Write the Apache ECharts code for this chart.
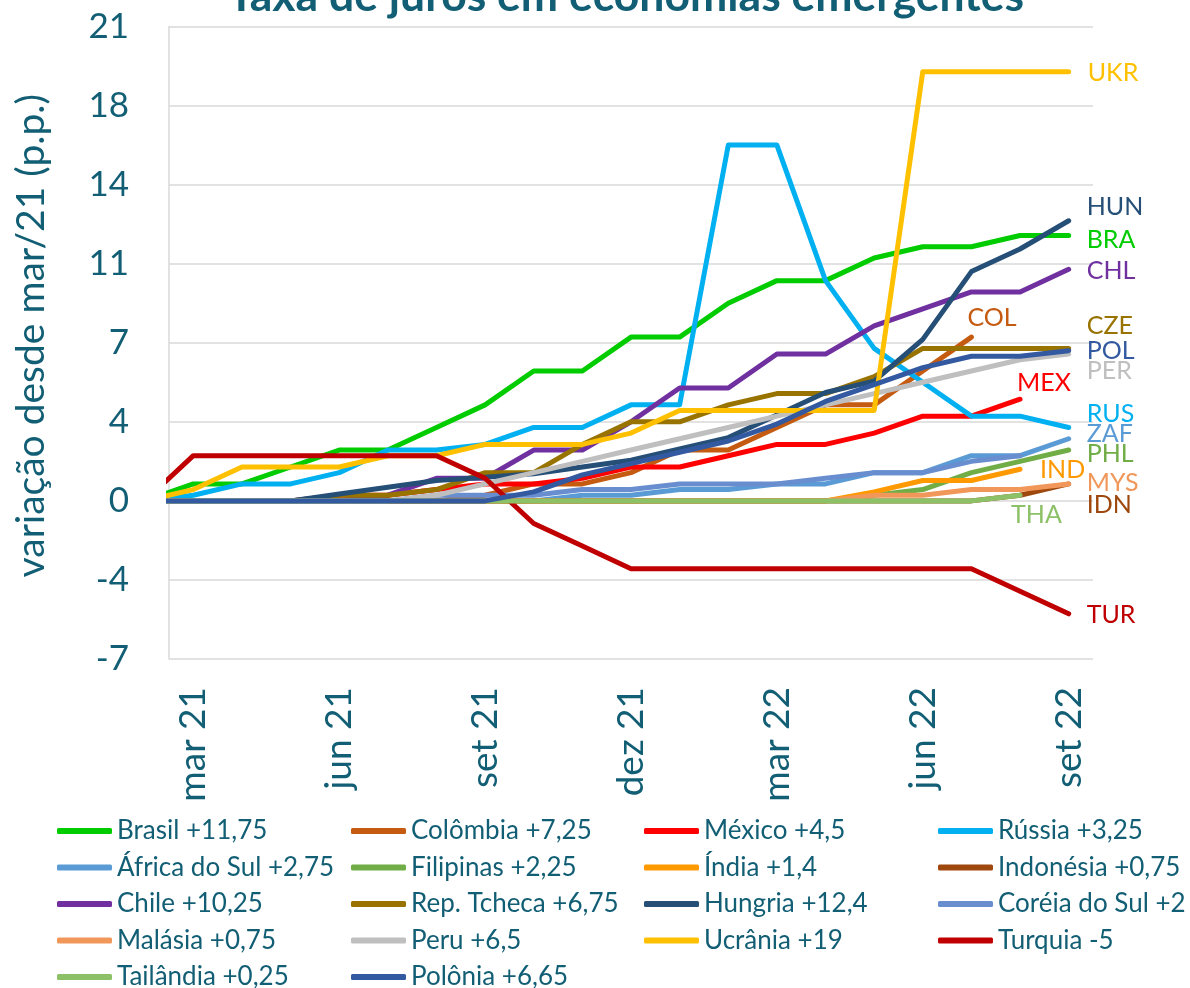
<!DOCTYPE html>
<html>
<head>
<meta charset="utf-8">
<script src="https://cdn.jsdelivr.net/npm/echarts@6/dist/echarts.min.js"></script>
<style>
  html, body { margin: 0; padding: 0; background: #fff; }
  #chart { width: 1190px; height: 988px; }
</style>
</head>
<body>
<div id="chart"></div>
<script>
// meses (o primeiro, fev 21, é a base antes de mar/21)
const months = ['fev 21', 'mar 21', 'abr 21', 'mai 21', 'jun 21', 'jul 21', 'ago 21', 'set 21', 'out 21', 'nov 21',
  'dez 21', 'jan 22', 'fev 22', 'mar 22', 'abr 22', 'mai 22', 'jun 22', 'jul 22', 'ago 22', 'set 22'];

const names = ['Brasil +11,75', 'Colômbia +7,25', 'México +4,5', 'Rússia +3,25',
  'África do Sul +2,75', 'Filipinas +2,25', 'Índia +1,4', 'Indonésia +0,75',
  'Chile +10,25', 'Rep. Tcheca +6,75', 'Hungria +12,4', 'Coréia do Sul +2',
  'Malásia +0,75', 'Peru +6,5', 'Ucrânia +19', 'Turquia -5',
  'Tailândia +0,25', 'Polônia +6,65'];
const codes = ['BRA', 'COL', 'MEX', 'RUS', 'ZAF', 'PHL', 'IND', 'IDN', 'CHL', 'CZE', 'HUN', '',
  'MYS', 'PER', 'UKR', 'TUR', 'THA', 'POL'];
const colors = ['#00CC00', '#C55A11', '#FF0000', '#00B0F0', '#5B9BD5', '#70AD47', '#FF9900', '#9E480E',
  '#7030A0', '#997300', '#264F78', '#698ED0', '#F1975A', '#BFBFBF', '#FFC000', '#C00000', '#8CC168', '#335AA1'];

// variação em p.p. desde mar/21
const brasil    = [0, 0.75, 0.75, 1.5, 2.25, 2.25, 3.25, 4.25, 5.75, 5.75, 7.25, 7.25, 8.75, 9.75, 9.75, 10.75, 11.25, 11.25, 11.75, 11.75];
const colombia  = [0, 0, 0, 0, 0, 0, 0, 0.25, 0.75, 0.75, 1.25, 2.25, 2.25, 3.25, 4.25, 4.25, 5.75, 7.25, null, null];
const mexico    = [0, 0, 0, 0, 0.25, 0.25, 0.5, 0.75, 0.75, 1, 1.5, 1.5, 2, 2.5, 2.5, 3, 3.75, 3.75, 4.5, null];
const russia    = [0, 0.25, 0.75, 0.75, 1.25, 2.25, 2.25, 2.5, 3.25, 3.25, 4.25, 4.25, 15.75, 15.75, 9.75, 6.75, 5.25, 3.75, 3.75, 3.25];
const africaSul = [0, 0, 0, 0, 0, 0, 0, 0, 0, 0.25, 0.25, 0.5, 0.5, 0.75, 0.75, 1.25, 1.25, 2, 2, 2.75];
const filipinas = [0, 0, 0, 0, 0, 0, 0, 0, 0, 0, 0, 0, 0, 0, 0, 0.25, 0.5, 1.25, 1.75, 2.25];
const india     = [0, 0, 0, 0, 0, 0, 0, 0, 0, 0, 0, 0, 0, 0, 0, 0.4, 0.9, 0.9, 1.4, null];
const indonesia = [0, 0, 0, 0, 0, 0, 0, 0, 0, 0, 0, 0, 0, 0, 0, 0, 0, 0, 0.25, 0.75];
const chile     = [0, 0, 0, 0, 0, 0.25, 1, 1, 2.25, 2.25, 3.5, 5, 5, 6.5, 6.5, 7.75, 8.5, 9.25, 9.25, 10.25];
const tcheca    = [0, 0, 0, 0, 0.25, 0.25, 0.5, 1.25, 1.25, 2.5, 3.5, 3.5, 4.25, 4.75, 4.75, 5.5, 6.75, 6.75, 6.75, 6.75];
const hungria   = [0, 0, 0, 0, 0.3, 0.6, 0.9, 1.05, 1.2, 1.5, 1.8, 2.3, 2.8, 3.8, 4.8, 5.3, 7.15, 10.15, 11.15, 12.4];
const coreia    = [0, 0, 0, 0, 0, 0, 0.25, 0.25, 0.25, 0.5, 0.5, 0.75, 0.75, 0.75, 1, 1.25, 1.25, 1.75, 2, null];
const malasia   = [0, 0, 0, 0, 0, 0, 0, 0, 0, 0, 0, 0, 0, 0, 0, 0.25, 0.25, 0.5, 0.5, 0.75];
const peru      = [0, 0, 0, 0, 0, 0, 0.25, 0.75, 1.25, 1.75, 2.25, 2.75, 3.25, 3.75, 4.25, 4.75, 5.25, 5.75, 6.25, 6.5];
const ucrania   = [0, 0.5, 1.5, 1.5, 1.5, 2, 2, 2.5, 2.5, 2.5, 3, 4, 4, 4, 4, 4, 19, 19, 19, 19];
const turquia   = [0, 2, 2, 2, 2, 2, 2, 1, -1, -2, -3, -3, -3, -3, -3, -3, -3, -3, -4, -5];
const tailandia = [0, 0, 0, 0, 0, 0, 0, 0, 0, 0, 0, 0, 0, 0, 0, 0, 0, 0, 0.25, null];
const polonia   = [0, 0, 0, 0, 0, 0, 0, 0, 0.4, 1.15, 1.65, 2.15, 2.65, 3.4, 4.4, 5.15, 5.9, 6.4, 6.4, 6.65];

const values = [brasil, colombia, mexico, russia, africaSul, filipinas, india, indonesia,
  chile, tcheca, hungria, coreia, malasia, peru, ucrania, turquia, tailandia, polonia];

const xTicks = [0, 3, 6, 9, 12, 15, 18];

// deslocamento dos rótulos à direita [dx, dy]
const labelOffsets = {
  UKR: [19, 1], HUN: [18, -14], BRA: [18, 4], CHL: [18, 2], COL: [-4, -19], CZE: [18, -22],
  POL: [18, 0], PER: [18, 17], MEX: [-3, -16], RUS: [18, -14], ZAF: [18, -5], PHL: [18, 4],
  IND: [20, 1], MYS: [18, -1], IDN: [18, 21], THA: [-9, 20], TUR: [18, 1]
};

const teal = '#125E74';
const font = 'Lato';

const series = names.map((name, s) => {
  const data = [];
  values[s].forEach((v, i) => { if (v !== null) data.push([i - 1, v]); });
  const code = codes[s];
  return {
    name: name,
    type: 'line',
    data: data,
    symbol: 'none',
    lineStyle: { color: colors[s], width: 5, cap: 'round', join: 'round' },
    itemStyle: { color: colors[s] },
    endLabel: {
      show: code !== '',
      formatter: code,
      color: colors[s],
      fontSize: 25,
      fontFamily: font,
      distance: 0,
      offset: labelOffsets[code] || [0, 0]
    },
    emphasis: { disabled: true }
  };
});

const legendLefts = [57, 351, 644, 938];
const legends = legendLefts.map((left, c) => ({
  orient: 'vertical',
  left: left,
  top: 817,
  height: 260,
  padding: 0,
  itemGap: 8.5,
  itemWidth: 55,
  itemHeight: 6,
  icon: 'roundRect',
  data: names.filter((n, i) => i % 4 === c),
  textStyle: { color: teal, fontSize: 26, lineHeight: 28, fontFamily: font }
}));

const chart = echarts.init(document.getElementById('chart'));
chart.setOption({
  animation: false,
  textStyle: { fontFamily: font },
  title: {
    text: 'Taxa de juros em economias emergentes',
    left: 621,
    textAlign: 'center',
    top: -31,
    textStyle: { color: teal, fontSize: 44.5, fontWeight: 'bold', fontFamily: font }
  },
  legend: legends,
  grid: { left: 169, right: 97, top: 26.5, bottom: 329 },
  xAxis: {
    type: 'value',
    min: -0.5,
    max: 18.5,
    axisLine: { show: false },
    axisTick: { show: false },
    splitLine: { show: false },
    axisLabel: {
      customValues: xTicks,
      rotate: 90,
      margin: 28,
      fontSize: 37,
      color: teal,
      fontFamily: font,
      formatter: v => months[Math.round(v) + 1]
    }
  },
  yAxis: {
    type: 'value',
    min: -7,
    max: 21,
    interval: 3.5,
    name: 'variação desde mar/21 (p.p.)',
    nameLocation: 'middle',
    nameGap: 118,
    nameTextStyle: { color: teal, fontSize: 39, fontFamily: font, padding: [0, 0, 0, 14] },
    axisLine: { show: true, onZero: false, lineStyle: { color: '#D9D9D9', width: 1.5 } },
    axisTick: { show: false },
    splitLine: { lineStyle: { color: '#D9D9D9', width: 1.5 } },
    axisLabel: {
      margin: 40,
      fontSize: 35,
      color: teal,
      fontFamily: font,
      formatter: v => String(Math.sign(v) * Math.round(Math.abs(v)))
    }
  },
  series: series
});
</script>
</body>
</html>
